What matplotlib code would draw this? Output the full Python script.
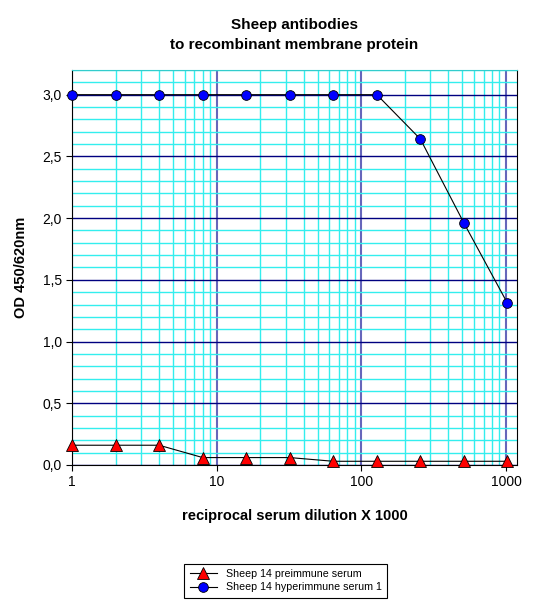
import matplotlib
matplotlib.use("Agg")
import matplotlib.pyplot as plt
from matplotlib.ticker import FixedLocator, FuncFormatter, MultipleLocator

plt.rcParams['font.family'] = ['Liberation Sans', 'DejaVu Sans']

dilution = [1, 2, 4, 8, 16, 32, 64, 128, 256, 512, 1024]
preimmune = [0.16, 0.16, 0.16, 0.06, 0.06, 0.06, 0.03, 0.03, 0.03, 0.03, 0.03]
hyperimmune = [3.0, 3.0, 3.0, 3.0, 3.0, 3.0, 3.0, 3.0, 2.64, 1.96, 1.31]

fig = plt.figure(figsize=(5.34, 6.14), dpi=100)
ax = fig.add_axes([0.135, 0.2427, 0.833, 0.6433])

ax.set_xscale('log')
ax.set_xlim(1, 1190)
ax.set_ylim(0, 3.2)

minor_x = [m * d for d in (1, 10, 100, 1000) for m in range(2, 10) if m * d < 1190]
ax.xaxis.set_major_locator(FixedLocator([1, 10, 100, 1000]))
ax.xaxis.set_minor_locator(FixedLocator(minor_x))
ax.xaxis.set_major_formatter(FuncFormatter(lambda v, p: '%d' % v))
ax.yaxis.set_major_locator(MultipleLocator(0.5))
ax.yaxis.set_minor_locator(MultipleLocator(0.1))
ax.yaxis.set_major_formatter(FuncFormatter(lambda v, p: ('%.1f' % v).replace('.', ',')))

ax.grid(which='minor', color='#33eeee', lw=1.0)
ax.grid(which='major', axis='y', color='#000080', lw=1.0)
ax.grid(which='major', axis='x', color='#6666bb', lw=1.5)
ax.set_axisbelow(True)
ax.tick_params(which='minor', length=0)
ax.tick_params(which='major', length=4, labelsize=10, direction='out')
ax.spines['top'].set_color('#33cccc')

ax.plot(dilution, preimmune, color='black', lw=0.8, marker='^', ms=8,
        mfc='red', mec='black', mew=0.6, label='Sheep 14 preimmune serum', clip_on=False, zorder=3)
ax.plot(dilution, hyperimmune, color='black', lw=0.8, marker='o', ms=7,
        mfc='blue', mec='black', mew=0.6, label='Sheep 14 hyperimmune serum 1', clip_on=False, zorder=3)

ax.set_title('Sheep antibodies\nto recombinant membrane protein', fontsize=11,
             fontweight='bold', pad=15, linespacing=1.6)
ax.set_xlabel('reciprocal serum dilution X 1000', fontsize=10.5, fontweight='bold', labelpad=14)
ax.set_ylabel('OD 450/620nm', fontsize=10.5, fontweight='bold', labelpad=10)

leg = fig.legend(loc='center', bbox_to_anchor=(0.535, 0.054), fontsize=7.7,
                 frameon=True, fancybox=False, edgecolor='black', framealpha=1,
                 handlelength=2.6, borderpad=0.5, labelspacing=0.3)
leg.get_frame().set_linewidth(0.8)

fig.savefig('out.png', dpi=100)
